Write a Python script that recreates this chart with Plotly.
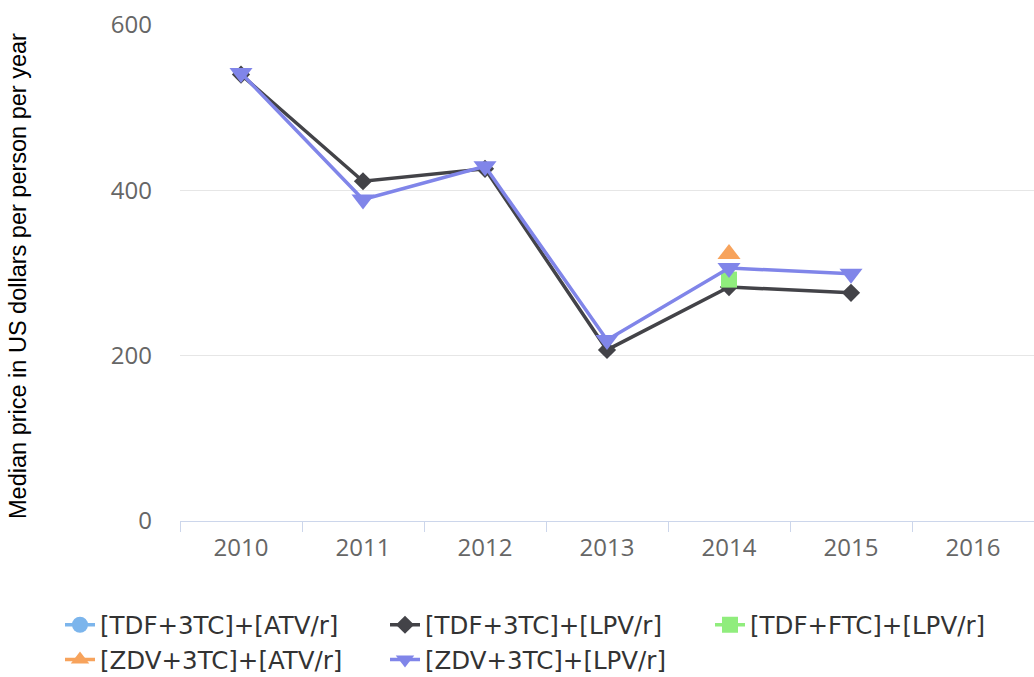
import plotly.graph_objects as go

years = ["2010", "2011", "2012", "2013", "2014", "2015", "2016"]

tdf_3tc_atv = [None, None, None, None, None, None, None]
tdf_3tc_lpv = [540, 411, 426, 207, 283, 276, None]
tdf_ftc_lpv = [None, None, None, None, 292, None, None]
zdv_3tc_atv = [None, None, None, None, 323, None, None]
zdv_3tc_lpv = [542, 389, 429, 219, 306, 299, None]

series = [
    ("[TDF+3TC]+[ATV/r]", tdf_3tc_atv, "#7cb5ec", "circle", 16),
    ("[TDF+3TC]+[LPV/r]", tdf_3tc_lpv, "#434348", "diamond", 14),
    ("[TDF+FTC]+[LPV/r]", tdf_ftc_lpv, "#90ed7d", "square", 16),
    ("[ZDV+3TC]+[ATV/r]", zdv_3tc_atv, "#f7a35c", "triangle-up", 20),
    ("[ZDV+3TC]+[LPV/r]", zdv_3tc_lpv, "#8085e9", "triangle-down", 20),
]

fig = go.Figure()
for name, vals, color, sym, size in series:
    fig.add_trace(go.Scatter(
        x=years, y=vals, name=name, mode="lines+markers",
        line=dict(color=color, width=3.5),
        marker=dict(symbol=sym, size=size, color=color),
        connectgaps=False,
    ))

fig.update_layout(
    width=1034, height=677,
    margin=dict(l=180, r=0, t=25, b=156, autoexpand=False),
    plot_bgcolor="white", paper_bgcolor="white",
    showlegend=True,
    legend=dict(
        orientation="h", x=(60 - 180) / 854, y=-0.164, xanchor="left", yanchor="top",
        entrywidth=280, entrywidthmode="pixels",
        font=dict(family="DejaVu Sans", size=24.5, color="#333333"),
        traceorder="normal",
        tracegroupgap=0,
    ),
    annotations=[dict(
        text="Median price in US dollars per person per year",
        xref="paper", yref="paper", x=(18 - 180) / 854, y=0.494,
        textangle=-90, showarrow=False, xanchor="center", yanchor="middle",
        font=dict(family="Liberation Sans", size=23.5, color="#000000"),
    )],
)

fig.update_xaxes(
    type="category", categoryorder="array", categoryarray=years,
    range=[-0.5, 6.5],
    showline=True, linecolor="#ccd6eb", linewidth=1,
    ticks="outside", tickson="boundaries", ticklen=10, tickcolor="#ccd6eb",
    showgrid=False, zeroline=False,
    ticklabelstandoff=5,
    tickfont=dict(family="Open Sans", size=24, color="#666666"),
)
fig.update_yaxes(
    range=[0, 600], tickvals=[0, 200, 400, 600],
    showgrid=True, gridcolor="#e6e6e6", gridwidth=1,
    zeroline=False, showline=False,
    ticklabelstandoff=27,
    tickfont=dict(family="Open Sans", size=24, color="#666666"),
)

fig.write_html(
    "out.html",
    config={"displayModeBar": False},
    post_script="document.body.style.margin='0';document.body.style.overflow='hidden';",
)
